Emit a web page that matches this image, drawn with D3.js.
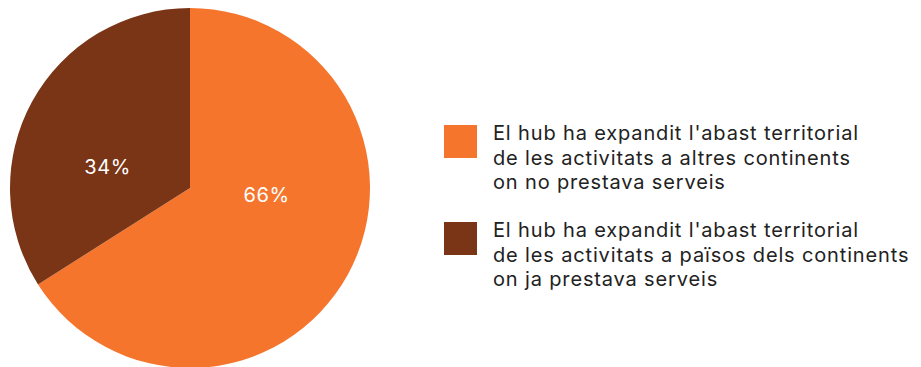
<!DOCTYPE html>
<html>
<head>
<meta charset="utf-8">
<script src="https://cdn.jsdelivr.net/npm/d3@7"></script>
<style>
  html, body { margin: 0; padding: 0; background: #fff; }
  svg { display: block; }
  text { font-family: Inter, "Noto Sans", sans-serif; }
</style>
</head>
<body>
<svg id="chart" width="921" height="367"></svg>
<script>
// Share of hubs by type of territorial expansion
const categories = [
  "El hub ha expandit l'abast territorial de les activitats a altres continents on no prestava serveis",
  "El hub ha expandit l'abast territorial de les activitats a països dels continents on ja prestava serveis"
];
const legendLines = [
  ["El hub ha expandit l'abast territorial", "de les activitats a altres continents", "on no prestava serveis"],
  ["El hub ha expandit l'abast territorial", "de les activitats a països dels continents", "on ja prestava serveis"]
];
const values = [66, 34];
const valueLabels = ["66%", "34%"];
const colors = ["#F5752C", "#7A3517"];

const svg = d3.select("#chart");
const cx = 190, cy = 188, radius = 180;

const pie = d3.pie().sort(null).value(d => d.value);
const arcs = pie(values.map((v, i) => ({ value: v, i })));
const arc = d3.arc().innerRadius(0).outerRadius(radius);

const g = svg.append("g").attr("transform", `translate(${cx},${cy})`);
g.selectAll("path.slice")
  .data(arcs)
  .join("path")
  .attr("class", "slice")
  .attr("d", arc)
  .attr("fill", d => colors[d.data.i]);

// value labels placed along a ring inside each slice
const labelRadius = [77, 85];
const labelAngle = [95, 284].map(a => a * Math.PI / 180);
g.selectAll("text.value")
  .data(arcs)
  .join("text")
  .attr("class", "value")
  .attr("x", d => labelRadius[d.data.i] * Math.sin(labelAngle[d.data.i]))
  .attr("y", d => -labelRadius[d.data.i] * Math.cos(labelAngle[d.data.i]))
  .attr("text-anchor", "middle")
  .attr("dominant-baseline", "central")
  .attr("fill", "#fff")
  .attr("font-size", 20)
  .attr("letter-spacing", 0.6)
  .text(d => valueLabels[d.data.i]);

// legend
const legend = svg.append("g").attr("transform", "translate(444,125)");
const item = legend.selectAll("g.item")
  .data(categories)
  .join("g")
  .attr("class", "item")
  .attr("transform", (d, i) => `translate(0,${i * 97})`);
item.append("rect")
  .attr("width", 33).attr("height", 33)
  .attr("fill", (d, i) => colors[i]);
item.append("text")
  .attr("x", 49)
  .attr("y", 15)
  .attr("fill", "#222")
  .attr("font-size", 20)
  .attr("letter-spacing", 0.85)
  .selectAll("tspan")
  .data((d, i) => legendLines[i])
  .join("tspan")
  .attr("x", 49)
  .attr("dy", (d, j) => j === 0 ? 0 : 24.5)
  .text(d => d);
</script>
</body>
</html>
